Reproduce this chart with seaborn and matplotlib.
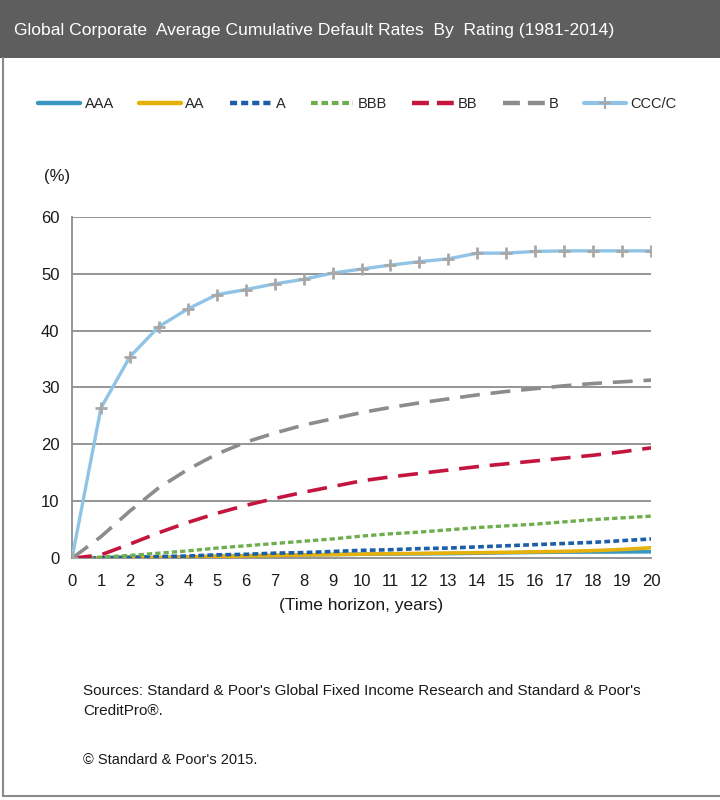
import matplotlib
matplotlib.use("Agg")
import matplotlib.pyplot as plt
from matplotlib.lines import Line2D
from matplotlib.patches import Rectangle
import seaborn as sns
import pandas as pd

sns.set_theme(style="white")
FONT = ["Liberation Sans Narrow", "Liberation Sans", "DejaVu Sans"]
plt.rcParams["font.family"] = FONT

years = list(range(0, 21))
ratings = ["AAA", "AA", "A", "BBB", "BB", "B", "CCC/C"]
aaa = [0, 0.0, 0.03, 0.13, 0.24, 0.35, 0.46, 0.52, 0.60, 0.66, 0.72, 0.76, 0.79, 0.82, 0.89, 0.97, 1.04, 1.09, 1.10, 1.12, 1.14]
aa = [0, 0.02, 0.06, 0.12, 0.22, 0.32, 0.42, 0.51, 0.59, 0.66, 0.73, 0.80, 0.86, 0.92, 0.98, 1.05, 1.13, 1.22, 1.35, 1.55, 1.85]
a = [0, 0.1, 0.2, 0.3, 0.4, 0.6, 0.7, 0.9, 1.0, 1.2, 1.4, 1.5, 1.7, 1.8, 2.0, 2.2, 2.4, 2.6, 2.8, 3.1, 3.4]
bbb = [0, 0.2, 0.5, 0.9, 1.3, 1.8, 2.2, 2.6, 3.0, 3.4, 3.9, 4.3, 4.6, 5.0, 5.4, 5.7, 6.0, 6.4, 6.8, 7.1, 7.4]
bb = [0, 0.6, 2.5, 4.5, 6.3, 7.9, 9.3, 10.5, 11.6, 12.6, 13.6, 14.3, 14.9, 15.5, 16.1, 16.6, 17.1, 17.6, 18.1, 18.7, 19.4]
b = [0, 3.8, 8.3, 12.4, 15.6, 18.3, 20.4, 22.0, 23.4, 24.5, 25.6, 26.5, 27.3, 28.0, 28.7, 29.3, 29.8, 30.3, 30.7, 31.0, 31.3]
ccc = [0, 26.4, 35.4, 40.7, 43.8, 46.3, 47.2, 48.2, 49.0, 50.1, 50.8, 51.5, 52.1, 52.6, 53.6, 53.6, 53.9, 54.0, 54.0, 54.0, 54.0]
y_ticks = [0, 10, 20, 30, 40, 50, 60]

series = [aaa, aa, a, bbb, bb, b, ccc]
styles = {
    "AAA": dict(color="#3a97c2", lw=2.6, dashes=None, key_dashes=None),
    "AA": dict(color="#e5b10a", lw=2.6, dashes=None, key_dashes=None),
    "A": dict(color="#1d5ea8", lw=2.6, dashes=(1.6, 0.9), key_dashes=(1.6, 0.9)),
    "BBB": dict(color="#6fae4e", lw=2.4, dashes=(1.6, 0.9), key_dashes=(1.6, 0.9)),
    "BB": dict(color="#c4153f", lw=2.6, dashes=(5.5, 3.0), key_dashes=(3.8, 1.8)),
    "B": dict(color="#8c8c8c", lw=2.6, dashes=(5.5, 3.0), key_dashes=(3.8, 1.8)),
    "CCC/C": dict(color="#8fc4e6", lw=2.4, dashes=None, key_dashes=None),
}

df = pd.DataFrame({"year": years * len(ratings),
                   "rating": [r for r in ratings for _ in years],
                   "rate": [v for s in series for v in s]})

fig = plt.figure(figsize=(7.2, 8.0), dpi=100)
fig.patch.set_facecolor("white")

# header bar and outer frame
fig.patches.append(Rectangle((0, 1 - 58 / 800), 1, 58 / 800, transform=fig.transFigure,
                             facecolor="#5e5e5e", edgecolor="none", zorder=0))
fig.lines.append(Line2D([3 / 720, 3 / 720], [4 / 800, 1 - 58 / 800], transform=fig.transFigure,
                        color="#8a8a8a", lw=1.5))
fig.lines.append(Line2D([3 / 720, 1], [4 / 800, 4 / 800], transform=fig.transFigure,
                        color="#8a8a8a", lw=1.5))
fig.text(14 / 720, 1 - 31 / 800, "Global Corporate  Average Cumulative Default Rates  By  Rating (1981-2014)",
         color="white", fontsize=12.6, ha="left", va="center", family=FONT)

ax = fig.add_axes([72 / 720, 1 - 558.3 / 800, (651 - 72) / 720, (558.3 - 216.7) / 800])

for r in ratings:
    st = styles[r]
    sub = df[df["rating"] == r]
    kw = dict(data=sub, x="year", y="rate", ax=ax, color=st["color"], linewidth=st["lw"],
              legend=False, zorder=3)
    if r == "CCC/C":
        kw.update(marker="+", markersize=8, markeredgewidth=2.0, markeredgecolor="#a8a8a8")
    sns.lineplot(**kw)
    ln = ax.lines[-1]
    if st["dashes"] is not None:
        ln.set_dashes(st["dashes"])
    ln.set_solid_capstyle("butt")
    ln.set_dash_capstyle("butt")

ax.set_xlim(0, 20)
ax.set_ylim(0, 60)
ax.set_xticks(years)
ax.set_yticks(y_ticks)
ax.set_xticklabels([str(v) for v in years])
ax.set_yticklabels([str(v) for v in y_ticks])
for yv in y_ticks[1:]:
    ax.axhline(yv, color="#8c8c8c", lw=1.3, zorder=1)
for s in ["top", "right"]:
    ax.spines[s].set_visible(False)
for s in ["left", "bottom"]:
    ax.spines[s].set_color("#8c8c8c")
    ax.spines[s].set_linewidth(1.3)
ax.tick_params(axis="both", direction="out", length=5, width=1.2, color="#8c8c8c",
               labelsize=12, labelcolor="#1a1a1a", pad=4)
ax.tick_params(axis="x", pad=6)
ax.set_xlabel("(Time horizon, years)", fontsize=12.5, color="#1a1a1a", labelpad=7)
ax.set_ylabel("")
fig.text(44 / 720, 1 - 177 / 800, "(%)", fontsize=12, color="#1a1a1a", ha="left", va="center")

# legend across the top
handles = []
for r in ratings:
    st = styles[r]
    if r == "CCC/C":
        h = Line2D([0], [0], color=st["color"], lw=st["lw"] + 0.6, marker="+", markersize=8,
                   markeredgewidth=1.6, markeredgecolor="#a8a8a8")
    else:
        h = Line2D([0], [0], color=st["color"], lw=st["lw"] + 0.6)
        if st["key_dashes"] is not None:
            h.set_dashes(st["key_dashes"])
        h.set_dash_capstyle("butt")
    handles.append(h)
fig.legend(handles, ratings, loc="center left", bbox_to_anchor=(38 / 720, 1 - 104 / 800), ncol=7,
           frameon=False, fontsize=10.5, handlelength=2.9, handletextpad=0.3, columnspacing=1.7,
           borderpad=0, borderaxespad=0)

fig.text(83 / 720, 1 - 691 / 800,
         "Sources: Standard & Poor's Global Fixed Income Research and Standard & Poor's",
         fontsize=11, color="#1a1a1a", ha="left", va="center")
fig.text(83 / 720, 1 - 711 / 800, "CreditPro\u00ae.", fontsize=11, color="#1a1a1a", ha="left", va="center")
fig.text(83 / 720, 1 - 760 / 800, "\u00a9 Standard & Poor's 2015.", fontsize=10.5, color="#1a1a1a",
         ha="left", va="center")

fig.savefig("out.png", dpi=100, facecolor="white")
